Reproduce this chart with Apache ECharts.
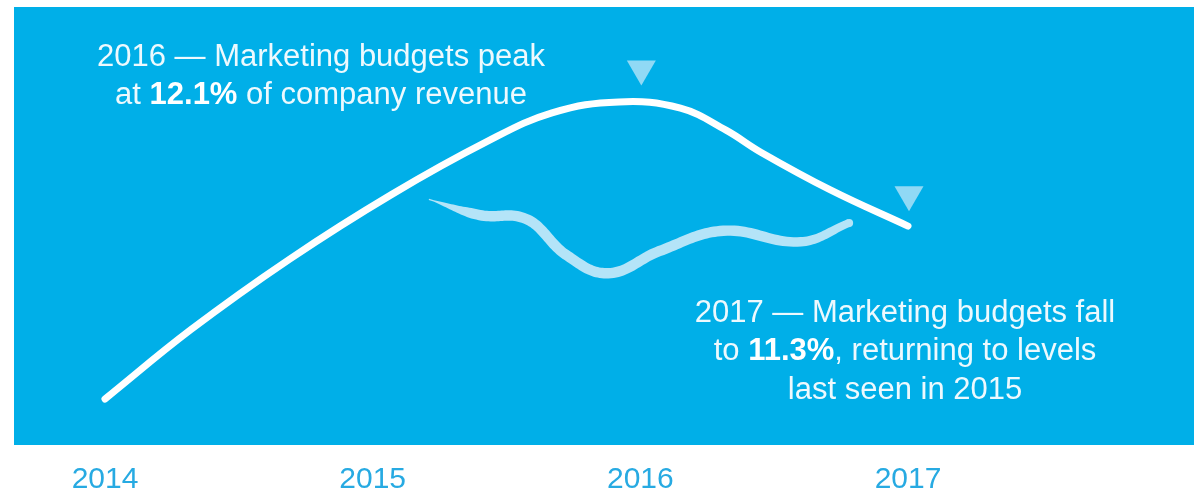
<!DOCTYPE html>
<html>
<head>
<meta charset="utf-8">
<script src="https://cdn.jsdelivr.net/npm/echarts@6/dist/echarts.min.js"></script>
<style>
html,body{margin:0;padding:0;background:#fff;}
#chart{width:1202px;height:495px;}
</style>
</head>
<body>
<div id="chart"></div>
<script>
// Yearly values (% of company revenue)
var years = [2014, 2015, 2016, 2017];
var yearValues = [10.21, 11.44, 12.1, 11.3];
var tickLabels = ['2014', '2015', '2016', '2017'];

// Main white curve (year, % value)
var curveYears  = [2014.0, 2014.32, 2014.69, 2015.07, 2015.43, 2015.67, 2015.92, 2016.15, 2016.32, 2016.45, 2016.71, 2017.0];
var curveValues = [10.21, 10.65, 11.10, 11.51, 11.85, 12.03, 12.10, 12.06, 11.92, 11.78, 11.54, 11.31];

// Light decorative ribbon
var ribbonYears  = [2015.21, 2015.40, 2015.58, 2015.72, 2015.88, 2016.07, 2016.31, 2016.60, 2016.78];
var ribbonValues = [11.48, 11.38, 11.35, 11.13, 11.01, 11.15, 11.28, 11.21, 11.33];

// Marker years (down-pointing triangles)
var markerYears = [2016, 2017];

// Annotations
var note1Line1 = '2016 — Marketing budgets peak';
var note1Pre = 'at ', note1Bold = '12.1%', note1Post = ' of company revenue';
var note2Line1 = '2017 — Marketing budgets fall';
var note2Pre = 'to ', note2Bold = '11.3%', note2Post = ', returning to levels';
var note2Line3 = 'last seen in 2015';

function pairs(xs, ys) { return xs.map(function (x, i) { return [x, ys[i]]; }); }

var markerData = markerYears.map(function (y) {
  return [y, yearValues[years.indexOf(y)]];
});

function coordsOf(params, api) {
  var n = params.dataInsideLength, pts = [];
  for (var i = 0; i < n; i++) pts.push(api.coord([api.value(0, i), api.value(1, i)]));
  return pts;
}
// Tangent-based cubic control points, scaled by horizontal segment lengths
var SMOOTH = 0.4;
function ctrlOut(pts, i) {
  var p = pts[i], a = pts[i - 1] || p, b = pts[i + 1] || p;
  var dp = p[0] - a[0], dn = b[0] - p[0], r = dn / ((dp + dn) || 1);
  return [p[0] + (b[0] - a[0]) * SMOOTH * r, p[1] + (b[1] - a[1]) * SMOOTH * r];
}
function ctrlIn(pts, i) {
  var p = pts[i], a = pts[i - 1] || p, b = pts[i + 1] || p;
  var dp = p[0] - a[0], dn = b[0] - p[0], r = dp / ((dp + dn) || 1);
  return [p[0] - (b[0] - a[0]) * SMOOTH * r, p[1] - (b[1] - a[1]) * SMOOTH * r];
}
function segCtrl(pts, k) { return [pts[k], ctrlOut(pts, k), ctrlIn(pts, k + 1), pts[k + 1]]; }

function splineItem(color, width) {
  return function (params, api) {
    if (params.dataIndex !== 0) return null;
    var pts = coordsOf(params, api);
    var d = 'M' + pts[0][0] + ' ' + pts[0][1];
    for (var k = 0; k < pts.length - 1; k++) {
      var c = segCtrl(pts, k);
      d += ' C' + c[1][0] + ' ' + c[1][1] + ' ' + c[2][0] + ' ' + c[2][1] + ' ' + c[3][0] + ' ' + c[3][1];
    }
    return {
      type: 'path', shape: { pathData: d },
      style: { fill: 'none', stroke: color, lineWidth: width, lineCap: 'round', lineJoin: 'round' }
    };
  };
}

// Tapered ribbon (thin pointed start, rounded end)
function ribbonItem(color, maxHalf, endHalf, taperLen) {
  return function (params, api) {
    if (params.dataIndex !== 0) return null;
    var pts = coordsOf(params, api), s = [];
    for (var k = 0; k < pts.length - 1; k++) {
      var c = segCtrl(pts, k);
      for (var j = (k === 0 ? 0 : 1); j <= 24; j++) {
        var t = j / 24, u = 1 - t;
        s.push([u*u*u*c[0][0] + 3*u*u*t*c[1][0] + 3*u*t*t*c[2][0] + t*t*t*c[3][0],
                u*u*u*c[0][1] + 3*u*u*t*c[1][1] + 3*u*t*t*c[2][1] + t*t*t*c[3][1]]);
      }
    }
    var len = [0];
    for (var i = 1; i < s.length; i++) len.push(len[i-1] + Math.hypot(s[i][0]-s[i-1][0], s[i][1]-s[i-1][1]));
    var total = len[len.length - 1], left = [], right = [];
    for (i = 0; i < s.length; i++) {
      var a = s[Math.max(0, i-1)], b = s[Math.min(s.length-1, i+1)];
      var dx = b[0]-a[0], dy = b[1]-a[1], m = Math.hypot(dx, dy) || 1;
      var nx = -dy/m, ny = dx/m;
      var f = len[i] / total;
      var h = Math.min(1, len[i] / taperLen) * maxHalf;
      h = Math.max(0.6, h - (maxHalf - endHalf) * Math.max(0, (f - 0.8) / 0.2));
      left.push([s[i][0] + nx*h, s[i][1] + ny*h]);
      right.push([s[i][0] - nx*h, s[i][1] - ny*h]);
    }
    var last = s[s.length - 1];
    return {
      type: 'group',
      children: [
        { type: 'polygon', shape: { points: left.concat(right.reverse()) }, style: { fill: color } },
        { type: 'circle', shape: { cx: last[0], cy: last[1], r: endHalf }, style: { fill: color } }
      ]
    };
  };
}

var FONT = 'Liberation Sans, Arial, sans-serif';
var TXT = 'rgba(255,255,255,0.93)';
var rich = {
  n: { fontSize: 31, fontFamily: FONT, fill: TXT, color: TXT, lineHeight: 38.5 },
  b: { fontSize: 31, fontFamily: FONT, fill: '#ffffff', color: '#ffffff', fontWeight: 'bold', lineHeight: 38.5 }
};

var chart = echarts.init(document.getElementById('chart'), null, { renderer: 'canvas' });
chart.setOption({
  animation: false,
  backgroundColor: '#ffffff',
  grid: { left: 105, right: 294, top: 39, bottom: 62.25, containLabel: false },
  xAxis: {
    type: 'value', min: 2014, max: 2017, interval: 1,
    axisLine: { show: false }, axisTick: { show: false }, splitLine: { show: false },
    axisLabel: {
      margin: 33, fontSize: 30, fontFamily: FONT, color: '#27AAE2',
      formatter: function (v) { var i = years.indexOf(v); return i >= 0 ? tickLabels[i] : ''; }
    }
  },
  yAxis: { type: 'value', min: 10, max: 12.5, show: false },
  graphic: [
    { type: 'rect', z: 0, silent: true, shape: { x: 14, y: 7, width: 1180, height: 438 }, style: { fill: '#00AFE8' } },
    { type: 'text', z: 100, x: 321, y: 38, style: {
        text: '{n|' + note1Line1 + '}\n{n|' + note1Pre + '}{b|' + note1Bold + '}{n|' + note1Post + '}',
        rich: rich, align: 'center', verticalAlign: 'top', font: '31px ' + FONT } },
    { type: 'text', z: 100, x: 905, y: 294, style: {
        text: '{n|' + note2Line1 + '}\n{n|' + note2Pre + '}{b|' + note2Bold + '}{n|' + note2Post + '}\n{n|' + note2Line3 + '}',
        rich: rich, align: 'center', verticalAlign: 'top', font: '31px ' + FONT } }
  ],
  series: [
    {
      type: 'custom', data: pairs(ribbonYears, ribbonValues), z: 3, clip: false,
      encode: { x: 0, y: 1 }, renderItem: ribbonItem('#B4E4F8', 5.2, 4, 45)
    },
    {
      type: 'custom', data: pairs(curveYears, curveValues), z: 4, clip: false,
      encode: { x: 0, y: 1 }, renderItem: splineItem('#ffffff', 7)
    },
    {
      type: 'scatter', data: markerData, z: 5,
      symbol: 'triangle', symbolRotate: 180, symbolSize: [29, 25], symbolOffset: [1, -29],
      itemStyle: { color: '#B4E4F8' }
    }
  ]
});
</script>
</body>
</html>
